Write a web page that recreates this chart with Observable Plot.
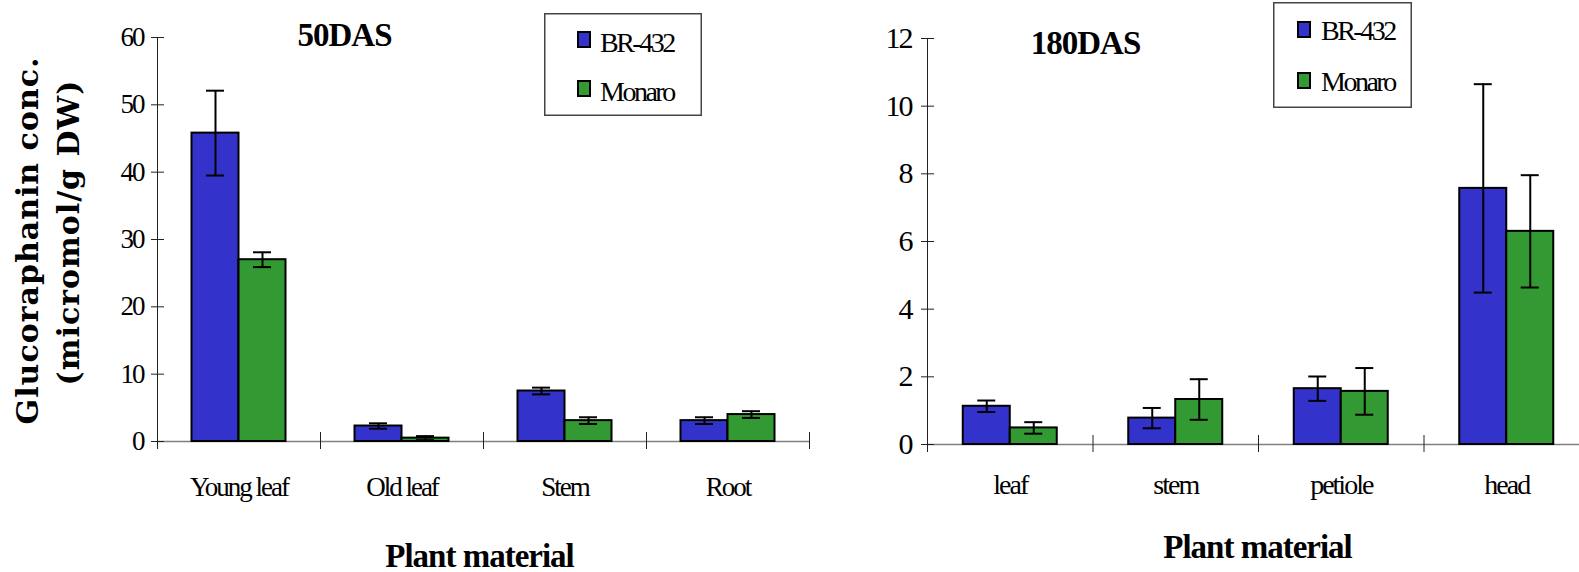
<!DOCTYPE html>
<html><head><meta charset="utf-8">
<script src="https://cdn.jsdelivr.net/npm/d3@7"></script>
<script src="https://cdn.jsdelivr.net/npm/@observablehq/plot@0.6"></script>
<style>
html,body{margin:0;padding:0;background:#fff;overflow:hidden}
#chart{position:relative;width:1579px;height:572px;overflow:hidden;background:#fff}
.panel{position:absolute;top:0}
.panel svg{max-width:none !important;display:block}
.legend{position:absolute;display:block}
</style></head>
<body><div id="chart"></div>
<script>
const varieties = ["BR-432", "Monaro"];
const colors = ["#3333CC", "#339933"];

const cats50 = ["Young leaf", "Old leaf", "Stem", "Root"];
const br50 = [45.8, 2.3, 7.5, 3.1];
const br50Err = [6.3, 0.4, 0.5, 0.5];
const mo50 = [27.0, 0.5, 3.1, 4.0];
const mo50Err = [1.1, 0.3, 0.5, 0.5];
const yTicks50 = [0, 10, 20, 30, 40, 50, 60];

const cats180 = ["leaf", "stem", "petiole", "head"];
const br180 = [1.13, 0.78, 1.65, 7.57];
const br180Err = [0.17, 0.30, 0.36, 3.08];
const mo180 = [0.49, 1.33, 1.57, 6.30];
const mo180Err = [0.17, 0.60, 0.69, 1.66];
const yTicks180 = [0, 2, 4, 6, 8, 10, 12];

const yTitle1 = "Glucoraphanin conc.";
const yTitle2 = "(micromol/g DW)";
const xTitle = "Plant material";

function panel(o) {
  const plotW = o.width - o.mL - o.mR;
  const plotH = o.height - o.mT - o.mB;
  const bw = plotW / o.cats.length;
  const barW = 47, capW = 18;
  const series = [o.br, o.mo], errs = [o.brErr, o.moErr];
  const marks = [];
  marks.push(Plot.ruleY([0], {stroke: "#808080", strokeWidth: 1.5}));
  // y axis line
  marks.push(Plot.ruleX([o.cats[0]], {x: d => d, dx: -bw / 2, insetBottom: -8, stroke: "#222", strokeWidth: 1}));
  // category separators
  marks.push(Plot.ruleX(o.cats.slice(1), {x: d => d, dx: -bw / 2, insetTop: plotH - 9, insetBottom: -8, stroke: "#222", strokeWidth: 1}));
  marks.push(Plot.ruleX([o.cats[o.cats.length - 1]], {x: d => d, dx: bw / 2, insetTop: plotH - 9, insetBottom: -8, stroke: "#222", strokeWidth: 1}));
  // y ticks crossing the axis
  marks.push(Plot.ruleY(o.yTicks, {y: d => d, dx: -6, insetRight: plotW - 13, stroke: "#222", strokeWidth: 1}));
  varieties.forEach((v, j) => {
    const data = o.cats.map((c, i) => ({cat: c, variety: v, value: series[j][i], err: errs[j][i]}));
    const insetL = j === 0 ? bw / 2 - barW : bw / 2;
    const insetR = j === 0 ? bw / 2 : bw / 2 - barW;
    const off = j === 0 ? -barW / 2 : barW / 2;
    marks.push(Plot.barY(data, {x: "cat", y: "value", fill: colors[j], stroke: "#000", strokeWidth: 2, insetLeft: insetL, insetRight: insetR}));
    marks.push(Plot.ruleX(data, {x: "cat", y1: d => d.value - d.err, y2: d => d.value + d.err, dx: off, stroke: "#000", strokeWidth: 2}));
    marks.push(Plot.tickY(data, {x: "cat", y: d => d.value + d.err, dx: off, insetLeft: (bw - capW) / 2, insetRight: (bw - capW) / 2, stroke: "#000", strokeWidth: 2}));
    marks.push(Plot.tickY(data, {x: "cat", y: d => d.value - d.err, dx: off, insetLeft: (bw - capW) / 2, insetRight: (bw - capW) / 2, stroke: "#000", strokeWidth: 2}));
  });
  marks.push(Plot.text([o.title], {text: d => d, frameAnchor: "top-left", dx: o.titleDx, dy: o.titleDy, textAnchor: "middle", lineAnchor: "bottom", fontSize: 33, fontWeight: "bold", fontFamily: "Liberation Serif", fill: "#000"}));
  marks.push(Plot.text([xTitle], {text: d => d, frameAnchor: "bottom-left", dx: o.xTitleDx, dy: o.xTitleDy, textAnchor: "middle", lineAnchor: "bottom", fontSize: 33, fontWeight: "bold", fontFamily: "Liberation Serif", fill: "#000"}));
  if (o.yTitle) {
    const mid = (o.mT + o.height - o.mB) / 2;
    marks.push(Plot.text([yTitle1], {text: d => d, frameAnchor: "left", rotate: -90, dx: 37 - o.mL, dy: 240 - mid, textAnchor: "middle", lineAnchor: "bottom", fontSize: 30, fontWeight: "bold", fontFamily: "DejaVu Serif", fill: "#000"}));
    marks.push(Plot.text([yTitle2], {text: d => d, frameAnchor: "left", rotate: -90, dx: 78 - o.mL, dy: 232 - mid, textAnchor: "middle", lineAnchor: "bottom", fontSize: 30, fontWeight: "bold", fontFamily: "DejaVu Serif", fill: "#000"}));
  }
  const svg = Plot.plot({
    width: o.width, height: o.height,
    marginLeft: o.mL, marginRight: o.mR, marginTop: o.mT, marginBottom: o.mB,
    x: {domain: o.cats, padding: 0, round: false, label: null, tickSize: 0, tickPadding: o.xPad},
    y: {domain: [0, o.yTicks[o.yTicks.length - 1]], ticks: o.yTicks, tickSize: 0, tickPadding: o.yPad, label: null},
    style: {fontFamily: "Liberation Serif", fontSize: o.xFont + "px", color: "#000", background: "transparent", overflow: "visible", letterSpacing: "-2px"},
    marks
  });
  const s = d3.select(svg);
  s.selectAll('[aria-label^="y-axis"] text').style("font-size", o.yFont + "px");
  s.selectAll('g[aria-label="text"] text').style("letter-spacing", "-1px");
  s.selectAll('g[aria-label="text"] text').filter(function () { return this.textContent === yTitle1 || this.textContent === yTitle2; }).style("letter-spacing", "1px");
  return svg;
}

function legend(o) {
  const svg = d3.create("svg").attr("class", "legend").attr("width", o.w).attr("height", o.h)
    .style("left", o.left + "px").style("top", o.top + "px");
  svg.append("rect").attr("x", 0.75).attr("y", 0.75).attr("width", o.w - 1.5).attr("height", o.h - 1.5)
    .attr("fill", "#fff").attr("stroke", "#444").attr("stroke-width", 1.5);
  varieties.forEach((v, i) => {
    svg.append("rect").attr("x", o.sqX + 1).attr("y", o.sqY + i * o.step + 1).attr("width", 12).attr("height", 15)
      .attr("fill", colors[i]).attr("stroke", "#000").attr("stroke-width", 2);
    svg.append("text").attr("x", o.txX).attr("y", o.txY + i * o.step).text(v)
      .attr("font-family", "Liberation Serif").attr("font-size", 28).attr("letter-spacing", "-2.5px").attr("fill", "#000");
  });
  return svg.node();
}

const chart = document.getElementById("chart");
const left = document.createElement("div");
left.className = "panel"; left.style.left = "0px"; left.style.width = "840px";
left.appendChild(panel({cats: cats50, br: br50, brErr: br50Err, mo: mo50, moErr: mo50Err, yTicks: yTicks50,
  width: 840, height: 572, mL: 157, mR: 31, mT: 37, mB: 131, xPad: 35, yPad: 14, xFont: 27, yFont: 27,
  title: "50DAS", titleDx: 187, titleDy: 8, xTitleDx: 322, xTitleDy: 125, yTitle: true}));
chart.appendChild(left);

const right = document.createElement("div");
right.className = "panel"; right.style.left = "840px"; right.style.width = "749px";
right.appendChild(panel({cats: cats180, br: br180, brErr: br180Err, mo: mo180, moErr: mo180Err, yTicks: yTicks180,
  width: 749, height: 572, mL: 87, mR: 0, mT: 38, mB: 128, xPad: 30, yPad: 16, xFont: 28, yFont: 30,
  title: "180DAS", titleDx: 158, titleDy: 15, xTitleDx: 330, xTitleDy: 113, yTitle: false}));
chart.appendChild(right);

chart.appendChild(legend({left: 544, top: 13, w: 158, h: 103, sqX: 33, sqY: 18, step: 49, txX: 56, txY: 39}));
chart.appendChild(legend({left: 1273, top: 2, w: 139, h: 106, sqX: 24, sqY: 19, step: 51, txX: 48, txY: 38}));
</script>
</body></html>
